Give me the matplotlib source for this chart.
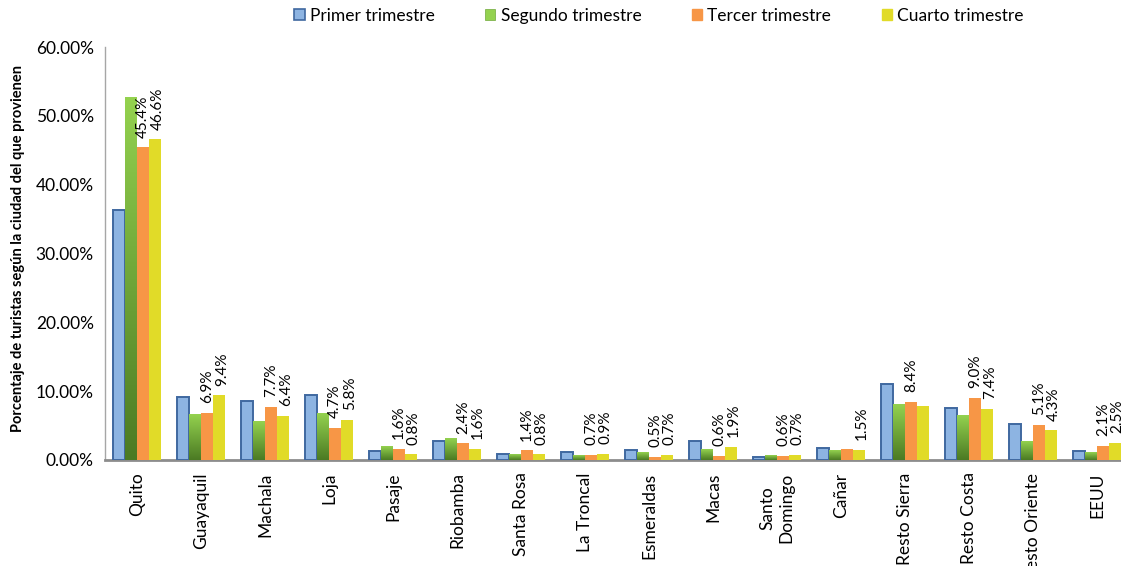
import numpy as np
import matplotlib
matplotlib.use("Agg")
import matplotlib.pyplot as plt
from matplotlib.colors import LinearSegmentedColormap
from matplotlib.patches import Patch

plt.rcParams['font.family'] = ['Lato', 'DejaVu Sans']

# porcentaje de turistas por ciudad de origen, en %
ciudades = ["Quito", "Guayaquil", "Machala", "Loja", "Pasaje", "Riobamba",
            "Santa Rosa", "La Troncal", "Esmeraldas", "Macas",
            "Santo\nDomingo", "Cañar", "Resto Sierra", "Resto Costa",
            "Resto Oriente", "EEUU"]
primer = [36.3, 9.2, 8.5, 9.5, 1.3, 2.8, 0.8, 1.2, 1.4, 2.7, 0.5, 1.8, 11.0, 7.6, 5.3, 1.35]
segundo = [52.7, 6.6, 5.6, 6.8, 2.0, 3.1, 0.8, 0.7, 1.1, 1.5, 0.6, 1.45, 8.1, 6.4, 2.7, 1.05]
tercer = [45.4, 6.9, 7.7, 4.7, 1.6, 2.4, 1.4, 0.7, 0.5, 0.6, 0.6, 1.6, 8.4, 9.0, 5.1, 2.1]
cuarto = [46.6, 9.4, 6.4, 5.8, 0.8, 1.6, 0.8, 0.9, 0.7, 1.9, 0.7, 1.5, 7.85, 7.4, 4.3, 2.5]
series = ["Primer trimestre", "Segundo trimestre", "Tercer trimestre", "Cuarto trimestre"]
# etiquetas que no se muestran
sin_etiqueta = {("Tercer trimestre", "Cañar"), ("Cuarto trimestre", "Resto Sierra")}

azul = "#8DB4E2"
azul_borde = "#3F68A0"
naranja = "#F79646"
amarillo = "#E1DB28"
verde_claro = "#94D24F"
verde_oscuro = "#4B7A23"

W, H = 1121, 566
fig = plt.figure(figsize=(W / 100, H / 100), dpi=100)
ax = fig.add_axes([105 / W, (H - 460) / H, 1024 / W, 413 / H])

x = np.arange(len(ciudades))
bw = 0.1875
offs = [-1.5 * bw, -0.5 * bw, 0.5 * bw, 1.5 * bw]

ax.bar(x + offs[0], primer, bw, color=azul, edgecolor=azul_borde, linewidth=1.4, zorder=3)

# segundo trimestre con degradado vertical
cmap_verde = LinearSegmentedColormap.from_list("verde", [verde_oscuro, verde_claro])
grad = np.linspace(0, 1, 256).reshape(-1, 1)
for xi, v in zip(x + offs[1], segundo):
    ax.imshow(grad, extent=(xi - bw / 2, xi + bw / 2, 0, v), origin="lower",
              cmap=cmap_verde, aspect="auto", zorder=3)

ax.bar(x + offs[2], tercer, bw, color=naranja, linewidth=0, zorder=3)
ax.bar(x + offs[3], cuarto, bw, color=amarillo, linewidth=0, zorder=3)

# etiquetas verticales sobre tercer y cuarto trimestre
for nombre, off, dx, vals in [(series[2], offs[2], 0, tercer), (series[3], offs[3], 2, cuarto)]:
    for xi, v, c in zip(x + off, vals, ciudades):
        if (nombre, c) in sin_etiqueta:
            continue
        ax.annotate(f"{v:.1f}%", (xi, v), xytext=(dx, 7), textcoords="offset points",
                    rotation=90, ha="center", va="bottom", fontsize=11,
                    annotation_clip=False, zorder=4)

ax.set_xlim(-0.5, len(ciudades) - 0.5)
ax.set_ylim(0, 60)
ax.set_yticks(np.arange(0, 61, 10))
ax.set_yticklabels([f"{t:.2f}%" for t in np.arange(0, 61, 10)], fontsize=12.5)
ax.set_xticks(x)
ax.set_xticklabels(ciudades, rotation=90, fontsize=12.5)
ax.tick_params(axis="y", length=0, pad=8)
ax.tick_params(axis="x", length=0, pad=9)
for s in ["top", "right"]:
    ax.spines[s].set_visible(False)
ax.spines["left"].set_color("#A6A6A6")
ax.spines["left"].set_linewidth(1.0)
ax.spines["bottom"].set_color("#8C8C8C")
ax.spines["bottom"].set_linewidth(2.0)

fig.text(18 / W, 1 - 248 / H, "Porcentaje de turistas según la ciudad del que provienen",
         rotation=90, ha="center", va="center", fontsize=10.5, fontweight="bold")

handles = [Patch(facecolor=azul, edgecolor=azul_borde, linewidth=1.2),
           Patch(facecolor=verde_claro, edgecolor="#6FA83A", linewidth=0.5),
           Patch(facecolor=naranja, edgecolor=naranja),
           Patch(facecolor=amarillo, edgecolor=amarillo)]
fig.legend(handles, series, loc="center", bbox_to_anchor=(659 / W, 1 - 16 / H),
           ncol=4, frameon=False, fontsize=12.5, handlelength=0.6, handleheight=0.6,
           handletextpad=0.3, columnspacing=2.9)

fig.savefig("out.png", dpi=100)
